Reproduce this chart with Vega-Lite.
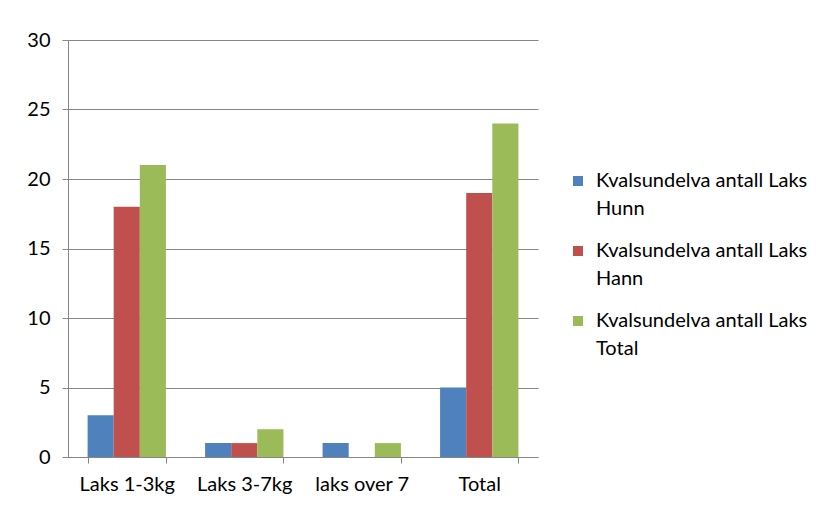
{
  "$schema": "https://vega.github.io/schema/vega-lite/v6.json",
  "width": 470,
  "height": 417,
  "autosize": "none",
  "padding": {"left": 68, "top": 40, "right": 296, "bottom": 51},
  "background": "white",
  "data": {
    "values": [
      {"kategori": "Laks 1-3kg", "serie": "Kvalsundelva antall Laks|Hunn", "antall": 3},
      {"kategori": "Laks 1-3kg", "serie": "Kvalsundelva antall Laks|Hann", "antall": 18},
      {"kategori": "Laks 1-3kg", "serie": "Kvalsundelva antall Laks|Total", "antall": 21},
      {"kategori": "Laks 3-7kg", "serie": "Kvalsundelva antall Laks|Hunn", "antall": 1},
      {"kategori": "Laks 3-7kg", "serie": "Kvalsundelva antall Laks|Hann", "antall": 1},
      {"kategori": "Laks 3-7kg", "serie": "Kvalsundelva antall Laks|Total", "antall": 2},
      {"kategori": "laks over 7", "serie": "Kvalsundelva antall Laks|Hunn", "antall": 1},
      {"kategori": "laks over 7", "serie": "Kvalsundelva antall Laks|Hann", "antall": 0},
      {"kategori": "laks over 7", "serie": "Kvalsundelva antall Laks|Total", "antall": 1},
      {"kategori": "Total", "serie": "Kvalsundelva antall Laks|Hunn", "antall": 5},
      {"kategori": "Total", "serie": "Kvalsundelva antall Laks|Hann", "antall": 19},
      {"kategori": "Total", "serie": "Kvalsundelva antall Laks|Total", "antall": 24}
    ]
  },
  "mark": {"type": "bar"},
  "encoding": {
    "x": {
      "field": "kategori",
      "type": "nominal",
      "sort": null,
      "scale": {"paddingInner": 0.3333, "paddingOuter": 0.1667},
      "axis": {
        "title": null,
        "labelAngle": 0,
        "tickBand": "extent",
        "tickSize": 6,
        "labelPadding": 11,
        "grid": false
      }
    },
    "xOffset": {
      "field": "serie",
      "type": "nominal",
      "sort": null,
      "scale": {"paddingInner": 0, "paddingOuter": 0}
    },
    "y": {
      "field": "antall",
      "type": "quantitative",
      "scale": {"domain": [0, 30]},
      "axis": {
        "title": null,
        "values": [0, 5, 10, 15, 20, 25, 30],
        "tickSize": 6,
        "labelPadding": 12,
        "grid": true
      }
    },
    "color": {
      "field": "serie",
      "type": "nominal",
      "sort": null,
      "scale": {"range": ["#4F81BD", "#C0504D", "#9BBB59"]},
      "legend": {
        "title": null,
        "orient": "none",
        "legendX": 500,
        "legendY": 131,
        "symbolType": "square",
        "symbolSize": 100,
        "symbolStrokeWidth": 0,
        "labelOffset": 8,
        "rowPadding": 22,
        "labelExpr": "split(datum.value, '|')",
        "labelLimit": 320
      }
    }
  },
  "config": {
    "font": "Lato",
    "view": {"stroke": null},
    "style": {"guide-label": {"lineHeight": 28}},
    "axis": {
      "labelFont": "Lato",
      "labelFontSize": 20,
      "labelColor": "#000000",
      "domainColor": "#868686",
      "tickColor": "#868686",
      "gridColor": "#868686",
      "gridOpacity": 1,
      "domainWidth": 1,
      "tickWidth": 1
    },
    "legend": {
      "labelFont": "Lato",
      "labelFontSize": 20,
      "labelColor": "#000000"
    }
  }
}
